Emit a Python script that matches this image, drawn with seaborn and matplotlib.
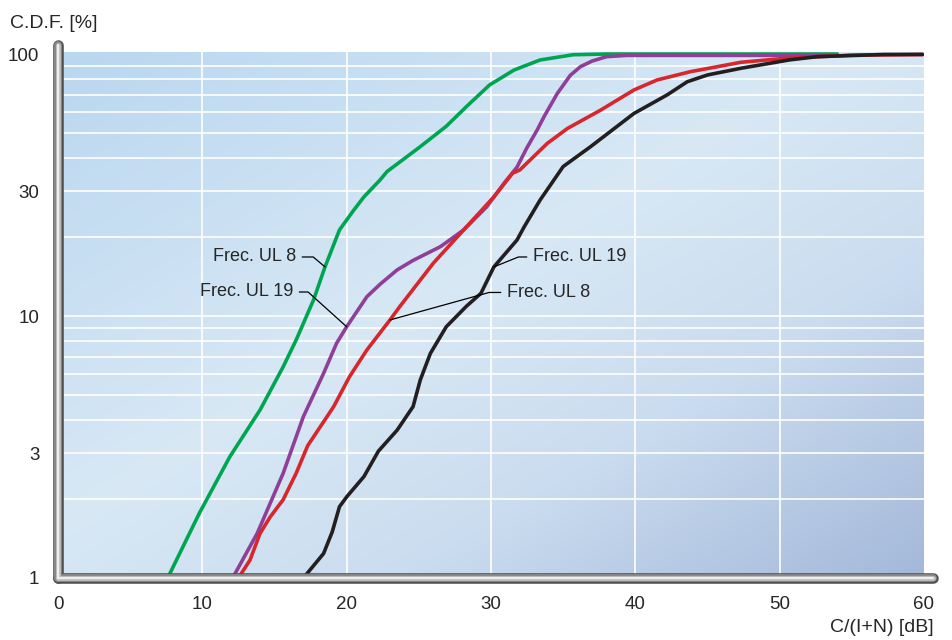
import numpy as np
import pandas as pd
import seaborn as sns
import matplotlib.pyplot as plt
from matplotlib.colors import LinearSegmentedColormap
from matplotlib.ticker import FixedLocator, NullFormatter

sns.set_style('white')
plt.rcParams['font.family'] = ['Liberation Sans', 'DejaVu Sans']
fs_tick = 13.5
fs_label = 14
fs_annot = 13

# C.D.F. curves: C/(I+N) [dB] vs C.D.F. [%]
green_x = [7.6, 9.8, 11.9, 14.0, 15.6, 16.5, 17.7, 18.5, 19.5, 20.5, 21.2, 22.3, 22.8, 25.1, 26.9,
           28.3, 29.9, 31.6, 33.4, 35.7, 38.0, 54.0]
green_y = [1.0, 1.77, 2.9, 4.38, 6.4, 8.1, 11.5, 15.4, 21.3, 25.4, 28.5, 33.0, 35.6, 44.3, 53.0,
           63.0, 76.2, 86.9, 94.9, 99.4, 100.0, 100.0]

purple_x = [12.1, 13.8, 15.6, 17.0, 18.4, 19.3, 20.0, 21.4, 22.3, 23.5, 24.6, 26.5, 28.1, 29.7,
            30.9, 31.8, 32.5, 33.2, 33.7, 34.6, 35.5, 36.2, 37.0, 38.0, 39.4, 54.0]
purple_y = [1.0, 1.48, 2.51, 4.13, 6.04, 7.87, 9.1, 11.85, 13.2, 15.0, 16.3, 18.4, 21.3, 26.1,
            32.1, 37.0, 44.0, 51.3, 58.0, 70.8, 83.0, 89.5, 94.0, 97.7, 98.8, 98.8]

red_x = [12.5, 13.3, 14.0, 14.7, 15.6, 16.5, 17.3, 19.1, 20.2, 21.4, 23.0, 23.7, 26.0, 28.1, 30.2,
         31.5, 32.0, 33.9, 35.3, 37.6, 39.9, 41.5, 43.8, 45.7, 47.3, 50.3, 54.9, 59.9]
red_y = [1.0, 1.17, 1.48, 1.71, 1.99, 2.51, 3.2, 4.51, 5.87, 7.42, 9.66, 10.9, 15.9, 21.3, 28.5,
         35.1, 36.1, 45.6, 52.0, 61.1, 72.9, 79.6, 85.6, 89.5, 93.0, 96.2, 99.0, 99.5]

black_x = [17.0, 18.4, 19.0, 19.5, 20.0, 21.2, 22.2, 23.5, 24.6, 25.1, 25.8, 26.9, 28.3, 29.3, 30.2,
           31.8, 32.3, 33.4, 35.0, 36.9, 39.9, 42.2, 43.6, 45.0, 47.3, 50.7, 52.6, 57.2, 59.9]
black_y = [1.0, 1.24, 1.5, 1.87, 2.04, 2.44, 3.05, 3.67, 4.51, 5.7, 7.2, 9.1, 10.9, 12.2, 15.4,
           19.5, 21.9, 27.7, 37.2, 44.3, 59.3, 69.8, 78.4, 83.2, 88.2, 95.0, 97.7, 99.6, 99.7]

curve_names = ['green', 'purple', 'red', 'black']
curve_colors = {'green': '#00a551', 'purple': '#8f3f98', 'red': '#d7262c', 'black': '#231f20'}

x_ticks = [0, 10, 20, 30, 40, 50, 60]
y_ticks = [1, 3, 10, 30, 100]
y_grid_minor = [2, 4, 5, 6, 7, 8, 9, 20, 40, 50, 60, 70, 80, 90]

# labels with leader lines: text, point on curve, text anchor, side, leader angle
annot_text = ['Frec. UL 8', 'Frec. UL 19', 'Frec. UL 19', 'Frec. UL 8']
annot_xy = [(18.5, 15.4), (20.0, 9.1), (30.2, 15.4), (23.0, 9.66)]
annot_xytext = [(16.5, 16.8), (16.3, 12.35), (32.9, 16.8), (31.1, 12.3)]
annot_ha = ['right', 'right', 'left', 'left']
annot_angle = [140, 138, 22, 15.5]

frames = []
for name, xs, ys in zip(curve_names, [green_x, purple_x, red_x, black_x],
                        [green_y, purple_y, red_y, black_y]):
    frames.append(pd.DataFrame({'cir': xs, 'cdf': ys, 'curve': name}))
df = pd.concat(frames, ignore_index=True)

fig = plt.figure(figsize=(9.52, 6.4), dpi=100)
ax = fig.add_axes([58 / 952, 1 - 578 / 640, 866 / 952, 526 / 640])
ax.set_yscale('log')
ax.set_xlim(0, 60)
ax.set_ylim(1, 101.8)
ax.set_autoscale_on(False)

# blue gradient backdrop
bg_cmap = LinearSegmentedColormap.from_list(
    'bg', [(0.0, '#b9d7f0'), (0.45, '#d8e8f5'), (0.7, '#cadcef'), (1.0, '#a4b8da')])
u, v = np.meshgrid(np.linspace(0, 1, 300), np.linspace(0, 1, 200))
t = 0.5 * (u + (1 - v))
ax.imshow(t, cmap=bg_cmap, extent=[0, 1, 0, 1], transform=ax.transAxes, origin='lower',
          aspect='auto', zorder=0, interpolation='bilinear')

sns.lineplot(data=df, x='cir', y='cdf', hue='curve', hue_order=curve_names, palette=curve_colors,
             estimator=None, sort=False, linewidth=2.6, legend=False, ax=ax, zorder=3,
             solid_joinstyle='round', solid_capstyle='round')

ax.set_xticks(x_ticks)
ax.set_yticks(y_ticks)
ax.set_yticklabels([str(v) for v in y_ticks])
ax.yaxis.set_minor_locator(FixedLocator(y_grid_minor))
ax.yaxis.set_minor_formatter(NullFormatter())
ax.tick_params(which='minor', length=0)
ax.tick_params(axis='y', which='major', direction='out', length=9.5, width=1, pad=4,
               color='#444444', labelsize=fs_tick)
ax.tick_params(axis='x', which='major', direction='out', length=9.4, width=1, pad=3.5,
               color='#444444', labelsize=fs_tick)
ax.set_axisbelow(True)
ax.grid(True, which='both', color='white', linewidth=1.2)
xt = ax.xaxis.get_major_ticks()
xt[0].gridline.set_visible(False)
xt[-1].gridline.set_visible(False)
yt = ax.yaxis.get_major_ticks()
yt[0].gridline.set_visible(False)
yt[-1].gridline.set_visible(False)
ax.set_xlabel('')
ax.set_ylabel('')
for s in ax.spines.values():
    s.set_visible(False)

# tube-like axis bars
for lw, col in [(7.6, '#4f4f4f'), (5.6, '#8a8a8a'), (3.4, '#c4c4c4'), (1.3, '#f4f4f4')]:
    ax.plot([0, 0], [0, 1.013], transform=ax.transAxes, color=col, lw=lw,
            solid_capstyle='round', clip_on=False, zorder=6)
    ax.plot([0, 1.0105], [0, 0], transform=ax.transAxes, color=col, lw=lw,
            solid_capstyle='round', clip_on=False, zorder=6)

for txt, xy, xytext, ha, ang in zip(annot_text, annot_xy, annot_xytext, annot_ha, annot_angle):
    ax.annotate(txt, xy=xy, xytext=xytext, ha=ha, va='center', fontsize=fs_annot, zorder=4,
                arrowprops=dict(arrowstyle='-', color='black', lw=0.9, shrinkA=2, shrinkB=0,
                                connectionstyle=f'angle,angleA=0,angleB={ang},rad=0'))

fig.text(10 / 952, 1 - 23 / 640, 'C.D.F. [%]', ha='left', va='center', fontsize=fs_label)
fig.text(934 / 952, 1 - 628 / 640, 'C/(I+N) [dB]', ha='right', va='center', fontsize=fs_label)

plt.savefig('out.png', dpi=100)
plt.close()
